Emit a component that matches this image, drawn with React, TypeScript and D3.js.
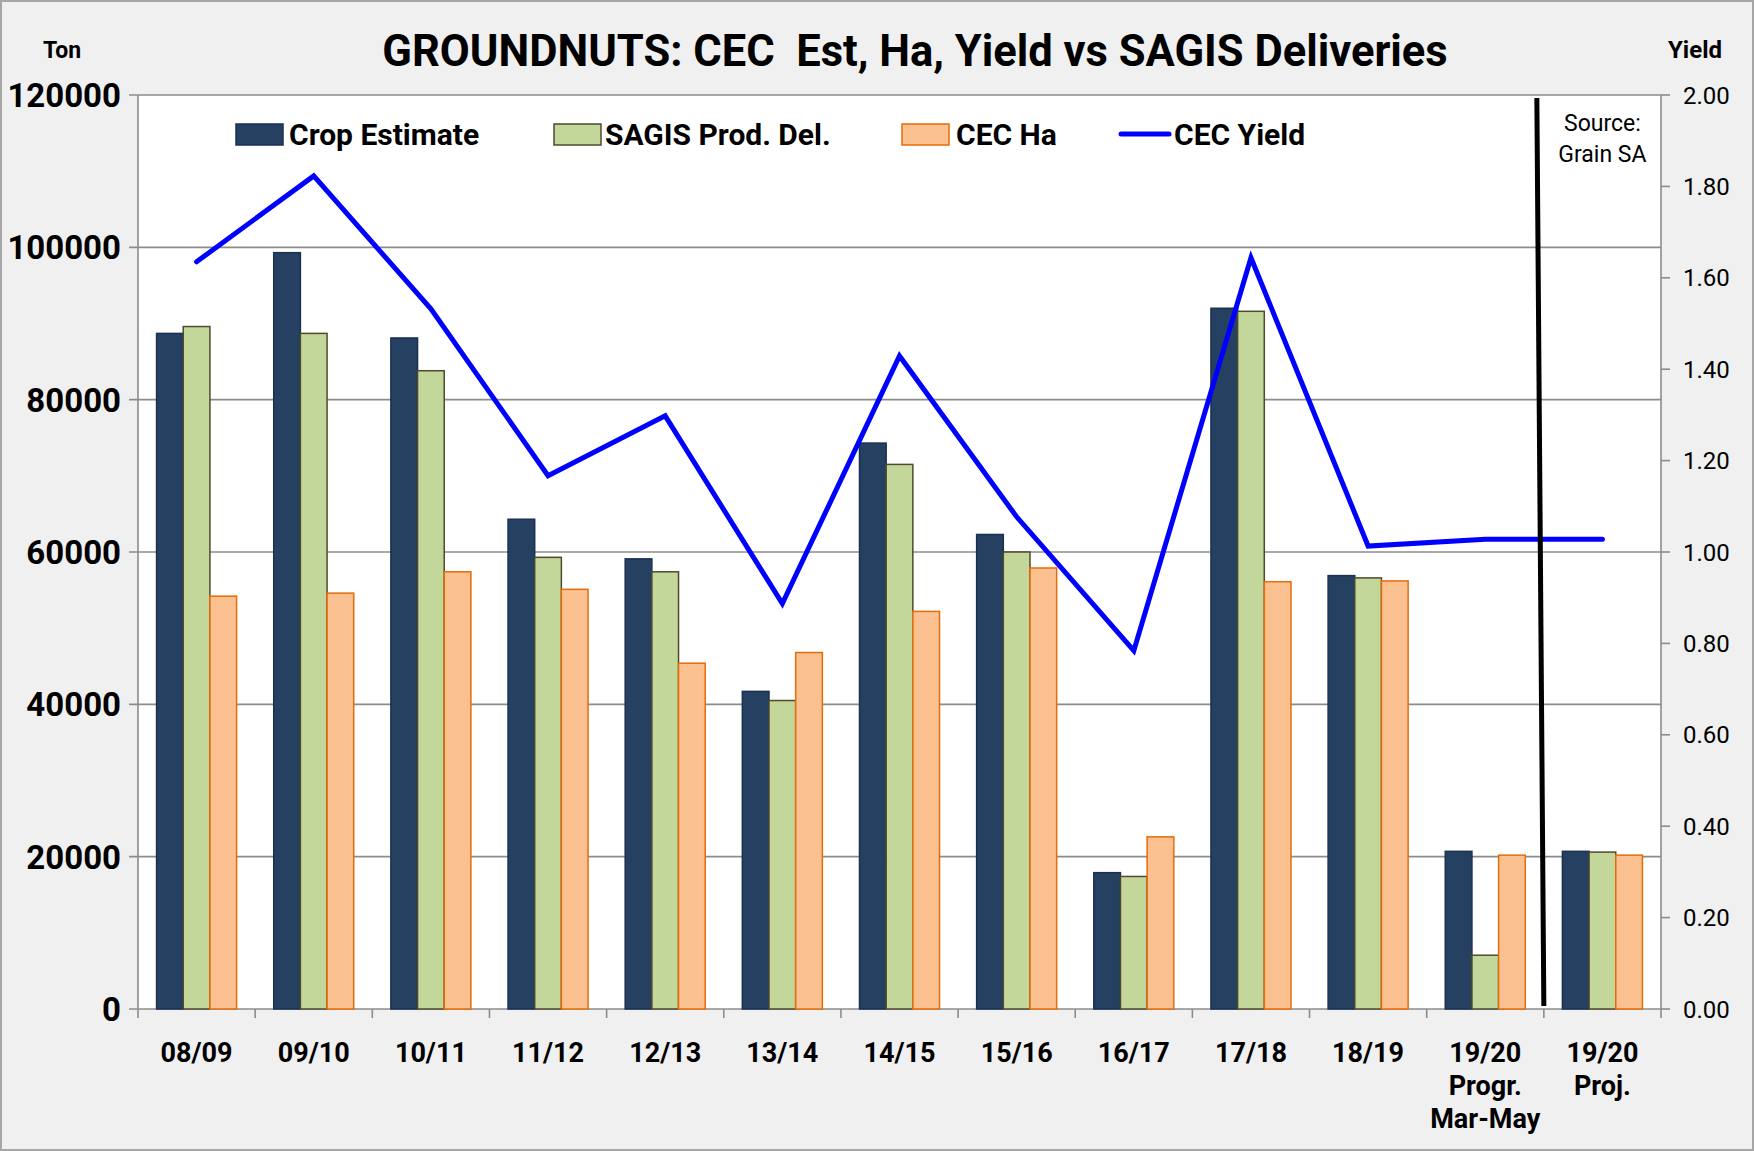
import { scaleBand, scaleLinear, line, range } from "d3";

const categories = [
  "08/09",
  "09/10",
  "10/11",
  "11/12",
  "12/13",
  "13/14",
  "14/15",
  "15/16",
  "16/17",
  "17/18",
  "18/19",
  "19/20|Progr.|Mar-May",
  "19/20|Proj.",
];

const cropEstimate = [88700, 99300, 88100, 64300, 59100, 41700, 74300, 62300, 17900, 92000, 56900, 20700, 20700];
const sagisDeliveries = [89600, 88700, 83800, 59300, 57400, 40500, 71500, 60000, 17400, 91600, 56600, 7060, 20600];
const cecHa = [54200, 54600, 57400, 55100, 45400, 46800, 52200, 57900, 22600, 56100, 56200, 20200, 20200];
const cecYield = [1.635, 1.823, 1.532, 1.167, 1.298, 0.887, 1.429, 1.077, 0.784, 1.644, 1.013, 1.028, 1.028];

const leftTicks = [0, 20000, 40000, 60000, 80000, 100000, 120000];
const rightTicks = [0, 0.2, 0.4, 0.6, 0.8, 1.0, 1.2, 1.4, 1.6, 1.8, 2.0];

const seriesNames = ["Crop Estimate", "SAGIS Prod. Del.", "CEC Ha"];
const seriesValues = [cropEstimate, sagisDeliveries, cecHa];

const W = 1754;
const H = 1151;
const margin = { left: 138, right: 1661, top: 95, bottom: 1009 };
const FONT = "Roboto, 'Open Sans', sans-serif";

const fills = ["#254061", "#C4D79B", "#FAC090"];
const strokes = ["#1a3152", "#4f4a2e", "#E46C0A"];

export default function App() {
  const x = scaleBand<string>().domain(categories).range([margin.left, margin.right]);
  const bw = x.bandwidth();
  const groupGap = bw * 0.317;
  const x1 = scaleBand<number>()
    .domain([0, 1, 2])
    .range([groupGap / 2, bw - groupGap / 2]);
  const y = scaleLinear().domain([0, 120000]).range([margin.bottom, margin.top]);
  const yR = scaleLinear().domain([0, 2]).range([margin.bottom, margin.top]);

  const yieldLine = line<number>()
    .x((_, i) => (x(categories[i]) ?? 0) + bw / 2)
    .y((d) => yR(d));

  // separator between the progress column and the projection column
  const sepX = x(categories[categories.length - 1]) ?? 0;

  const legendLayout = [
    { sx: 236, tx: 289 },
    { sx: 554, tx: 605 },
    { sx: 902, tx: 956 },
  ];

  return (
    <svg
      width={W}
      height={H}
      style={{ position: "absolute", left: 0, top: 0 }}
      fontFamily={FONT}
    >
      <rect x={1} y={1} width={W - 2} height={H - 2} fill="#F0F0F0" stroke="#a6a6a6" strokeWidth={2} />
      <rect
        x={margin.left}
        y={margin.top}
        width={margin.right - margin.left}
        height={margin.bottom - margin.top}
        fill="#ffffff"
      />

      {/* gridlines + left ticks */}
      {leftTicks.map((t) => (
        <g key={t}>
          <line x1={margin.left - 9} x2={margin.right} y1={y(t)} y2={y(t)} stroke="#8c8c8c" strokeWidth={1.6} />
          <text
            x={121}
            y={y(t)}
            dy="0.36em"
            textAnchor="end"
            fontSize={33}
            fontWeight="bold"
            fill="#000"
          >
            {t}
          </text>
        </g>
      ))}

      {/* axes */}
      <line x1={margin.left} x2={margin.left} y1={margin.top} y2={margin.bottom} stroke="#8c8c8c" strokeWidth={1.6} />
      <line x1={margin.right} x2={margin.right} y1={margin.top} y2={margin.bottom} stroke="#8c8c8c" strokeWidth={1.6} />

      {rightTicks.map((t) => (
        <g key={t}>
          <line x1={margin.right} x2={margin.right + 9} y1={yR(t)} y2={yR(t)} stroke="#8c8c8c" strokeWidth={1.6} />
          <text x={1683} y={yR(t)} dy="0.36em" fontSize={24} fill="#000">
            {t.toFixed(2)}
          </text>
        </g>
      ))}

      {range(categories.length + 1).map((i) => (
        <line
          key={i}
          x1={margin.left + i * bw}
          x2={margin.left + i * bw}
          y1={margin.bottom}
          y2={margin.bottom + 9}
          stroke="#8c8c8c"
          strokeWidth={1.6}
        />
      ))}

      {/* bars */}
      {seriesValues.map((vals, s) => (
        <g key={s}>
          {vals.map((v, i) => (
            <rect
              key={i}
              x={(x(categories[i]) ?? 0) + (x1(s) ?? 0)}
              y={y(v)}
              width={x1.bandwidth()}
              height={y(0) - y(v)}
              fill={fills[s]}
              stroke={strokes[s]}
              strokeWidth={1.5}
            />
          ))}
        </g>
      ))}

      {/* yield line */}
      <path
        d={yieldLine(cecYield) ?? ""}
        fill="none"
        stroke="#0000FF"
        strokeWidth={5}
        strokeLinecap="round"
      />

      {/* separator */}
      <line
        x1={sepX - 7}
        y1={margin.top + 3}
        x2={sepX}
        y2={margin.bottom - 3}
        stroke="#000"
        strokeWidth={5}
      />
      <text textAnchor="middle" fontSize={23} fill="#000">
        <tspan x={(sepX + margin.right) / 2} y={131}>Source:</tspan>
        <tspan x={(sepX + margin.right) / 2} y={162}>Grain SA</tspan>
      </text>

      {/* x labels */}
      {categories.map((c) => (
        <text key={c} textAnchor="middle" fontSize={27} fontWeight="bold" fill="#000">
          {c.split("|").map((part, j) => (
            <tspan key={j} x={(x(c) ?? 0) + bw / 2} y={1062 + j * 33}>
              {part}
            </tspan>
          ))}
        </text>
      ))}

      {/* legend */}
      {seriesNames.map((name, s) => (
        <g key={name}>
          <rect
            x={legendLayout[s].sx}
            y={124}
            width={47}
            height={21}
            fill={fills[s]}
            stroke={strokes[s]}
            strokeWidth={1.5}
          />
          <text x={legendLayout[s].tx} y={145} fontSize={30} fontWeight="bold" fill="#000">
            {name}
          </text>
        </g>
      ))}
      <line x1={1121} x2={1169} y1={134} y2={134} stroke="#0000FF" strokeWidth={5} strokeLinecap="round" />
      <text x={1174} y={145} fontSize={30} fontWeight="bold" fill="#000">
        CEC Yield
      </text>

      {/* titles */}
      <text x={915} y={66} textAnchor="middle" fontSize={43.5} fontWeight="bold" fill="#000">
        GROUNDNUTS: CEC&#160; Est, Ha, Yield vs SAGIS Deliveries
      </text>
      <text x={62} y={58} textAnchor="middle" fontSize={23} fontWeight="bold" fill="#000">
        Ton
      </text>
      <text x={1695} y={58} textAnchor="middle" fontSize={24} fontWeight="bold" fill="#000">
        Yield
      </text>
    </svg>
  );
}
